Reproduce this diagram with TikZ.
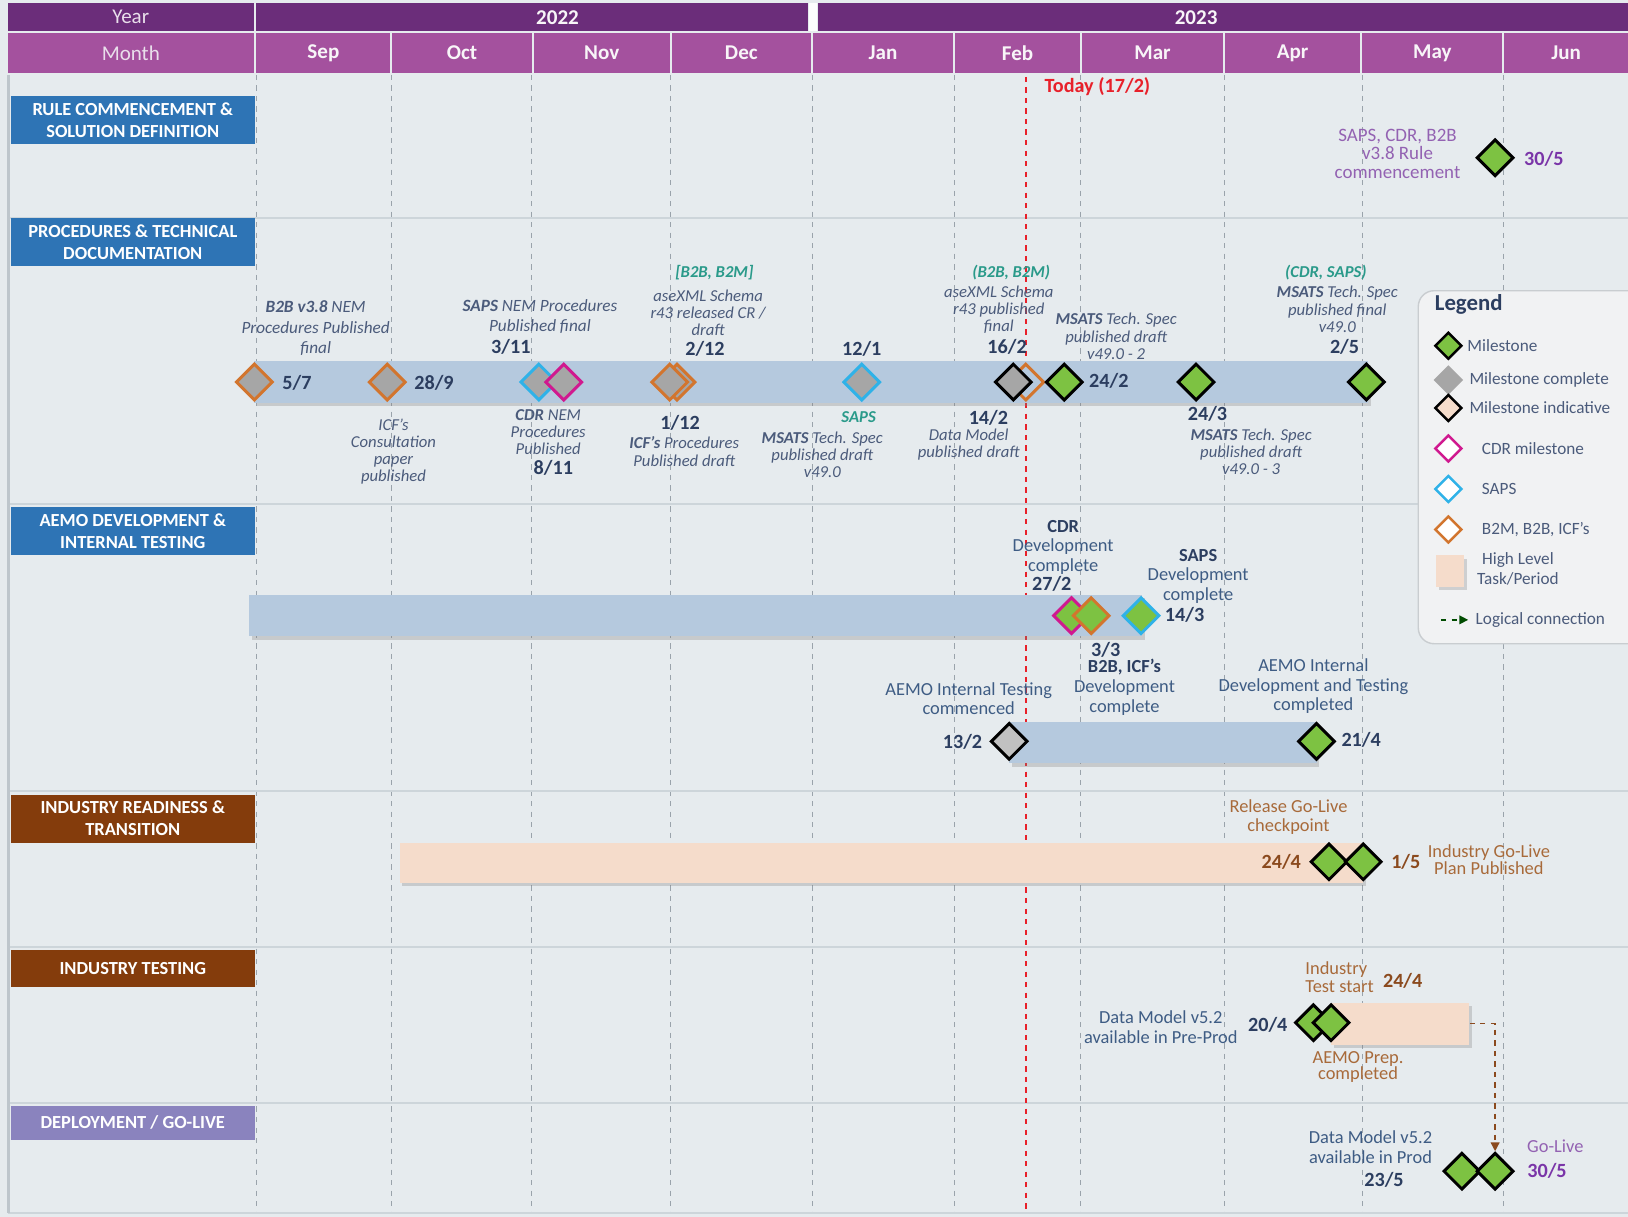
\documentclass[tikz,border=0pt]{standalone}
\usepackage{fontspec}
\setmainfont{Carlito}
\usetikzlibrary{shapes.geometric,shadows,fit,arrows.meta}

\definecolor{bgc}{HTML}{E6EBEE}
\definecolor{yearc}{HTML}{6B2D7A}
\definecolor{monthc}{HTML}{A4519E}
\definecolor{laneblue}{HTML}{2E74B5}
\definecolor{lanebrown}{HTML}{843C0C}
\definecolor{lanelav}{HTML}{8A83BE}
\definecolor{barblue}{HTML}{B5C9DE}
\definecolor{peach}{HTML}{F5DCCB}
\definecolor{msgreen}{HTML}{7DC242}
\definecolor{msgrey}{HTML}{A6A6A6}
\definecolor{msorange}{HTML}{D2752E}
\definecolor{mscyan}{HTML}{2FB2E8}
\definecolor{msmagenta}{HTML}{D0198F}
\definecolor{navytxt}{HTML}{2C3E60}
\definecolor{slatetxt}{HTML}{4B5B7B}
\definecolor{bluetxt}{HTML}{3E5C84}
\definecolor{tealtxt}{HTML}{2A9A8A}
\definecolor{rulepurple}{HTML}{9362B2}
\definecolor{datepurple}{HTML}{7A35A8}
\definecolor{browntxt}{HTML}{A86A3A}
\definecolor{browndate}{HTML}{8B4A1E}
\definecolor{todayred}{HTML}{E8202A}
\definecolor{gridc}{HTML}{9AA3AB}
\definecolor{sepc}{HTML}{CDD5DA}
\definecolor{legfill}{HTML}{F1F2F3}
\definecolor{legborder}{HTML}{C9CDD0}

\newcommand{\annfont}{\fontsize{9.5}{9.8}\selectfont\itshape}
\newcommand{\annfontB}{\fontsize{9.8}{11.5}\selectfont\itshape}
\newcommand{\datefont}{\fontsize{11.5}{12}\selectfont\bfseries}
\newcommand{\lanefont}{\fontsize{10.5}{12.5}\selectfont\bfseries}
\newcommand{\plainfont}{\fontsize{10.5}{11.2}\selectfont}
\newcommand{\legfont}{\fontsize{9.8}{11.5}\selectfont}

\begin{document}
\begin{tikzpicture}[x=0.0208cm,y=-0.0208cm]

	\tikzstyle{ms}=[diamond,draw=black,fill=msgreen,line width=1.7pt,minimum width=0.74cm,minimum height=0.74cm,inner sep=0pt]
	\tikzstyle{msdone}=[ms,fill=msgrey]
	\tikzstyle{legms}=[ms,line width=1.4pt,minimum width=0.54cm,minimum height=0.54cm]
	\tikzstyle{lane}=[anchor=north west,fill=laneblue,text=white,font=\lanefont,align=center,minimum width=4.89cm,minimum height=0.96cm,inner sep=0pt]
	\tikzstyle{task}=[fill=barblue,inner sep=0pt,drop shadow={shadow xshift=1.5pt,shadow yshift=-2pt,opacity=0.3}]
	\tikzstyle{ptask}=[task,fill=peach]
	\tikzstyle{ann}=[font=\annfont,text=slatetxt,align=center,inner sep=0pt]
	\tikzstyle{teal}=[font=\annfont\bfseries,text=tealtxt,inner sep=0pt]
	\tikzstyle{dlabel}=[font=\datefont,text=navytxt,inner sep=0pt]
	\tikzstyle{bdate}=[dlabel,text=browndate]
	\tikzstyle{pdate}=[dlabel,text=datepurple]
	\tikzstyle{dtext}=[font=\plainfont,text=bluetxt,align=center,inner sep=0pt]
	\tikzstyle{btext}=[dtext,text=browntxt]
	\tikzstyle{ptext}=[dtext,text=rulepurple]
	\tikzstyle{hdr}=[font=\fontsize{12}{12}\selectfont,text=white!85!yearc]
	\tikzstyle{hdrb}=[font=\fontsize{12}{12}\selectfont\bfseries,text=white!95!yearc]
	\tikzstyle{legtxt}=[font=\legfont,text=slatetxt,anchor=west,inner sep=0pt]
	\tikzstyle{logic}=[dashed,line width=0.8pt,browndate,-{Triangle[length=5pt,width=5pt]}]

	\useasboundingbox (0,0) rectangle (1568,1172);
	\clip (0,0) rectangle (1568,1172);
	\fill[bgc] (0,0) rectangle (1568,1172);

	% header
	\fill[yearc] (8,3) rectangle (245,30);
	\node[hdr] (yr) at (126,16) {Year};
	\fill[yearc] (247,3) rectangle (778,30);
	\node[hdrb] (y22) at (537,17) {2022};
	\fill[white!90!bgc] (779,3) rectangle (787,30);
	\fill[yearc] (788,3) rectangle (1568,30);
	\node[hdrb] (y23) at (1152,17) {2023};
	\fill[monthc] (8,32) rectangle (245,70);
	\node[hdr] (mo) at (126,51) {Month};
	\foreach \a/\b/\m in {247/376/Sep,378/512/Oct,514/645/Nov,647/781/Dec,783/918/Jan,920/1040/Feb,1042/1178/Mar,1180/1310/Apr,1312/1447/May,1449/1568/Jun}
	{
		\fill[monthc] (\a,32) rectangle (\b,70);
		\node[hdrb] (m\m) at ({(\a+\b)/2},51) {\m};
	}

	% grid
	\foreach \x in {247,377,512,646,782,919,1041,1179,1312,1448}
		\draw[gridc,dashed,line width=0.4pt] (\x,72) -- (\x,1168);
	\foreach \y in {210,485,762,912,1062,1168}
		\draw[sepc,line width=1.2pt] (8,\y) -- (1568,\y);
	\draw[sepc!70!gridc,line width=1.5pt] (8,72) -- (8,1168);

	\draw[todayred,dashed,line width=1.1pt] (988,74) -- (988,1168);
	\node[font=\fontsize{11.5}{12}\selectfont\bfseries,text=todayred] (today) at (1057,83) {Today (17/2)};

	% lanes
	\node[lane] (l1) at (10,92) {RULE COMMENCEMENT \&\\SOLUTION DEFINITION};
	\node[lane] (l2) at (10,210) {PROCEDURES \& TECHNICAL\\DOCUMENTATION};
	\node[lane] (l3) at (10,488) {AEMO DEVELOPMENT \&\\INTERNAL TESTING};
	\node[lane,fill=lanebrown] (l4) at (10,765) {INDUSTRY READINESS \&\\TRANSITION};
	\node[lane,fill=lanebrown,minimum height=0.73cm] (l5) at (10,915) {INDUSTRY TESTING};
	\node[lane,fill=lanelav,minimum height=0.67cm] (l6) at (10,1065) {DEPLOYMENT / GO-LIVE};

	% rule commencement
	\node[ms] (rc) at (1440,152) {};
	\node[pdate] (rcd) at (1487,153) {30/5};
	\node[ptext,font=\fontsize{10.8}{10.6}\selectfont] (rct) at (1346,148) {SAPS, CDR, B2B\\v3.8 Rule\\commencement};

	% procedures
	\node[task,fit={(245,348) (1318,388)}] (pbar) {};
	\node[msdone,draw=msorange] (p1) at (245,368) {};
	\node[dlabel] (p1d) at (286,369) {5/7};
	\node[msdone,draw=msorange] (p2) at (373,368) {};
	\node[dlabel] (p2d) at (418,369) {28/9};
	\node[msdone,draw=mscyan] (p3) at (519,368) {};
	\node[msdone,draw=msmagenta] (p4) at (543,368) {};
	\node[msdone,draw=msorange] (p5b) at (652,368) {};
	\node[msdone,draw=msorange] (p5) at (645,368) {};
	\node[msdone,draw=mscyan] (p6) at (830,368) {};
	\node[ms,draw=msorange,fill=none] (p7b) at (988,368) {};
	\node[msdone] (p7) at (976,368) {};
	\node[ms] (p8) at (1025,368) {};
	\node[dlabel] (p8d) at (1068,367) {24/2};
	\node[ms] (p9) at (1152,368) {};
	\node[ms] (p10) at (1316,368) {};

	\node[ann,font=\annfontB] (p1t) at (304,316) {{\bfseries B2B v3.8} NEM\\Procedures Published\\final};
	\node[ann,font=\annfontB] (p4t) at (520,305) {{\bfseries SAPS} NEM Procedures\\Published final};
	\node[dlabel] (p4d) at (492,334) {3/11};
	\node[teal] (p5g) at (688,263) {[B2B, B2M]};
	\node[ann] (p5t) at (682,301) {aseXML Schema\\r43 released CR /\\draft};
	\node[dlabel] (p5d) at (679,336) {2/12};
	\node[dlabel] (p6d) at (830,336) {12/1};
	\node[teal] (p7g) at (974,263) {(B2B, B2M)};
	\node[ann] (p7t) at (962,298) {aseXML Schema\\r43 published\\final};
	\node[dlabel] (p7d) at (970,334) {16/2};
	\node[ann] (p8t) at (1075,324) {{\bfseries MSATS} Tech. Spec\\published draft\\v49.0 - 2};
	\node[teal] (p10g) at (1277,263) {(CDR, SAPS)};
	\node[ann] (p10t) at (1288,298) {{\bfseries MSATS} Tech. Spec\\published final\\v49.0};
	\node[dlabel] (p10d) at (1295,334) {2/5};

	\node[ann] (p2t) at (379,435) {ICF’s\\Consultation\\paper\\published};
	\node[ann] (p3t) at (528,416) {{\bfseries CDR} NEM\\Procedures\\Published};
	\node[dlabel] (p3d) at (533,451) {8/11};
	\node[dlabel] (p5d2) at (655,407) {1/12};
	\node[ann,font=\fontsize{9.5}{10.6}\selectfont\itshape] (p5t2) at (659,435) {{\bfseries ICF’s} Procedures\\Published draft};
	\node[teal] (p6g) at (827,402) {SAPS};
	\node[ann] (p6t) at (792,438) {{\bfseries MSATS} Tech. Spec\\published draft\\v49.0};
	\node[dlabel] (p7d2) at (952,402) {14/2};
	\node[ann] (p7t2) at (933,428) {Data Model\\published draft};
	\node[dlabel] (p9d) at (1163,399) {24/3};
	\node[ann] (p9t) at (1205,435) {{\bfseries MSATS} Tech. Spec\\published draft\\v49.0 - 3};

	% aemo development
	\node[task,fit={(240,573) (1100,613)}] (abar) {};
	\node[ms,draw=msmagenta] (a1) at (1032,593) {};
	\node[ms,draw=msorange] (a2) at (1051,593) {};
	\node[ms,draw=mscyan] (a3) at (1099,593) {};
	\node[dtext] (a1t) at (1024,527) {\textcolor{navytxt}{\bfseries CDR}\\Development\\complete};
	\node[dlabel] (a1d) at (1013,562) {27/2};
	\node[dtext] (a3t) at (1154,555) {\textcolor{navytxt}{\bfseries SAPS}\\Development\\complete};
	\node[dlabel] (a3d) at (1141,592) {14/3};
	\node[dlabel] (a2d) at (1065,626) {3/3};
	\node[dtext] (a2t) at (1083,662) {\textcolor{navytxt}{\bfseries B2B, ICF’s}\\Development\\complete};

	\node[task,fit={(972,695) (1268,735)}] (abar2) {};
	\node[msdone,fill=msgrey!70] (a4) at (972,714) {};
	\node[ms] (a5) at (1268,714) {};
	\node[dlabel] (a4d) at (927,715) {13/2};
	\node[dlabel] (a5d) at (1311,713) {21/4};
	\node[dtext] (a4t) at (933,673) {AEMO Internal Testing\\commenced};
	\node[dtext] (a5t) at (1265,661) {AEMO Internal\\Development and Testing\\completed};

	% industry readiness
	\node[ptask,fit={(385,812) (1313,850)}] (rbar) {};
	\node[ms] (r1) at (1280,830) {};
	\node[ms] (r2) at (1313,830) {};
	\node[bdate] (r1d) at (1234,830) {24/4};
	\node[bdate] (r2d) at (1354,830) {1/5};
	\node[btext,font=\fontsize{10.5}{10.6}\selectfont] (r1t) at (1241,787) {Release Go-Live\\checkpoint};
	\node[btext,font=\fontsize{10.5}{10}\selectfont] (r2t) at (1434,828) {Industry Go-Live\\Plan Published};

	% industry testing
	\node[ptask,fit={(1282,966) (1415,1006)}] (tbar) {};
	\node[ms] (t1) at (1265,985) {};
	\node[ms] (t2) at (1282,985) {};
	\node[btext,align=left,anchor=west,font=\fontsize{10.5}{10}\selectfont] (t2t) at (1257,941) {Industry\\Test start};
	\node[bdate] (t2d) at (1351,945) {24/4};
	\node[dtext] (t1t) at (1118,989) {Data Model v5.2\\available in Pre-Prod};
	\node[dlabel] (t1d) at (1221,987) {20/4};
	\node[btext,font=\fontsize{10.5}{9}\selectfont] (t3t) at (1308,1028) {AEMO Prep.\\completed};

	% go-live
	\node[ms] (g1) at (1408,1128) {};
	\node[ms] (g2) at (1440,1128) {};
	\node[dtext] (g1t) at (1320,1105) {Data Model v5.2\\available in Prod};
	\node[dlabel] (g1d) at (1333,1136) {23/5};
	\node[ptext] (g2t) at (1498,1104) {Go-Live};
	\node[pdate] (g2d) at (1490,1128) {30/5};

	\draw[logic] (tbar.east) -| (g2.north);

	% legend
	\node[draw=legborder,fill=legfill,rounded corners=9pt,line width=0.8pt,fit={(1366,280) (1610,620)},inner sep=0pt] (leg) {};
	\node[font=\fontsize{13}{13}\selectfont\bfseries,text=navytxt,anchor=west] (legt) at (1376,293) {Legend};
	\node[legms] (k1) at (1395,333) {};
	\node[legtxt] (k1t) at (1413,333) {Milestone};
	\node[legms,draw=msgrey,fill=msgrey] (k2) at (1395,366) {};
	\node[legtxt] (k2t) at (1415,366) {Milestone complete};
	\node[legms,fill=peach] (k3) at (1395,393) {};
	\node[legtxt] (k3t) at (1415,393) {Milestone indicative};
	\node[legms,draw=msmagenta,fill=white] (k4) at (1395,432) {};
	\node[legtxt] (k4t) at (1427,432) {CDR milestone};
	\node[legms,draw=mscyan,fill=white] (k5) at (1395,471) {};
	\node[legtxt] (k5t) at (1427,471) {SAPS};
	\node[legms,draw=msorange,fill=white] (k6) at (1395,510) {};
	\node[legtxt] (k6t) at (1427,510) {B2M, B2B, ICF’s};
	\node[ptask,fit={(1383,535) (1410,565)}] (k7) {};
	\node[legtxt,anchor=center,align=center] (k7t) at (1462,548) {High Level\\Task/Period};
	\coordinate (k8a) at (1388,597);
	\coordinate (k8b) at (1414,597);
	\draw[dashed,line width=0.8pt,black!70!green,-{Triangle[length=5pt,width=5pt]}] (k8a) -- (k8b);
	\node[legtxt] (k8t) at (1421,597) {Logical connection};

\end{tikzpicture}
\end{document}
